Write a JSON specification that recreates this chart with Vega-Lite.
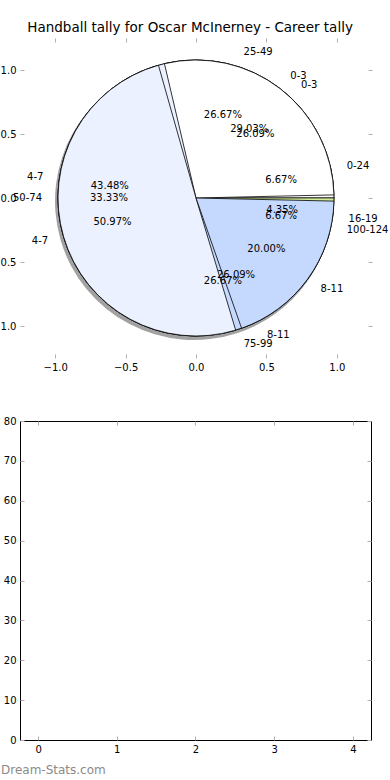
{
  "$schema": "https://vega.github.io/schema/vega-lite/v6.json",
  "autosize": {"type": "pad"},
  "padding": {"left": -9, "top": 21, "right": 0, "bottom": 0},
  "bounds": "flush",
  "spacing": 63,
  "config": {
    "font": "DejaVu Sans",
    "view": {"stroke": null},
    "axis": {"grid": false, "labelFontSize": 10, "labelColor": "black", "tickColor": "#b0b0b0", "tickSize": -4, "tickWidth": 1, "labelPadding": 8, "domain": false, "title": null, "labelFlush": false, "labelOverlap": false}
  },
  "title": {"text": "Handball tally for Oscar McInerney - Career tally", "fontSize": 13.5, "fontWeight": "normal", "color": "black", "anchor": "middle", "offset": 3},
  "data": {"values": [
    {"pie": "A", "idx": 1, "band": "0-24", "value": 0.0667},
    {"pie": "A", "idx": 2, "band": "25-49", "value": 0.2667},
    {"pie": "A", "idx": 3, "band": "50-74", "value": 0.3333},
    {"pie": "A", "idx": 4, "band": "75-99", "value": 0.2667},
    {"pie": "A", "idx": 5, "band": "100-124", "value": 0.0667},
    {"pie": "B", "idx": 1, "band": "0-3", "value": 0.2609},
    {"pie": "B", "idx": 2, "band": "4-7", "value": 0.4348},
    {"pie": "B", "idx": 3, "band": "8-11", "value": 0.2609},
    {"pie": "B", "idx": 4, "band": "16-19", "value": 0.0435},
    {"pie": "C", "idx": 1, "band": "0-3", "value": 0.2903},
    {"pie": "C", "idx": 2, "band": "4-7", "value": 0.5097},
    {"pie": "C", "idx": 3, "band": "8-11", "value": 0.2000}
  ]},
  "vconcat": [
    {
      "width": 352,
      "height": 320,
      "resolve": {"axis": {"x": "independent", "y": "independent"}},
      "layer": [
        {
          "data": {"values": [{}]},
          "mark": {"type": "point", "opacity": 0},
          "encoding": {
            "x": {"datum": 0, "type": "quantitative", "scale": {"domain": [-1.25, 1.25], "nice": false, "zero": false}, "axis": {"orient": "bottom", "values": [-1, -0.5, 0, 0.5, 1], "format": ".1f"}},
            "y": {"datum": 0, "type": "quantitative", "scale": {"domain": [-1.25, 1.25], "nice": false, "zero": false}, "axis": {"orient": "left", "values": [-1, -0.5, 0, 0.5, 1], "format": ".1f"}}
          }
        },
        {
          "data": {"values": [{}]},
          "mark": {"type": "point", "opacity": 0},
          "encoding": {
            "x": {"datum": 0, "type": "quantitative", "axis": {"orient": "top", "values": [-1, -0.5, 0, 0.5, 1], "labels": false}},
            "y": {"datum": 0, "type": "quantitative", "axis": {"orient": "right", "values": [-1, -0.5, 0, 0.5, 1], "labels": false}}
          }
        },
        {
          "transform": [{"filter": "datum.pie === 'C'"}],
          "mark": {"type": "arc", "radius": 139, "xOffset": -2, "yOffset": 3, "fill": "#555555", "opacity": 0.55, "strokeWidth": 0},
          "encoding": {
            "theta": {"field": "value", "type": "quantitative", "stack": true},
            "order": {"field": "idx", "type": "quantitative"}
          }
        },
        {
          "transform": [{"filter": "datum.pie === 'A'"}],
          "mark": {"type": "arc", "radius": 138, "stroke": "black", "strokeWidth": 0.8, "padAngle": 0.0},
          "encoding": {
            "theta": {"field": "value", "type": "quantitative", "stack": true, "scale": {"domain": [0, 1], "range": [1.5708, -4.7124]}},
            "order": {"field": "idx", "type": "quantitative"},
            "color": {"field": "band", "type": "nominal", "legend": null, "scale": {"domain": ["0-3", "4-7", "8-11", "16-19", "0-24", "25-49", "50-74", "75-99", "100-124"], "range": ["#ffffff", "#ebf1fe", "#c5d9fe", "#d3ec96", "#ffffff", "#ebf1fe", "#c5d9fe", "#d3ec96", "#f3d6cf"]}}
          }
        },
        {
          "transform": [{"filter": "datum.pie === 'B'"}],
          "mark": {"type": "arc", "radius": 138, "stroke": "black", "strokeWidth": 0.8, "padAngle": 0.0},
          "encoding": {
            "theta": {"field": "value", "type": "quantitative", "stack": true},
            "order": {"field": "idx", "type": "quantitative"},
            "color": {"field": "band", "type": "nominal", "legend": null}
          }
        },
        {
          "transform": [{"filter": "datum.pie === 'C'"}],
          "mark": {"type": "arc", "radius": 138, "stroke": "black", "strokeWidth": 0.8, "padAngle": 0.045},
          "encoding": {
            "theta": {"field": "value", "type": "quantitative", "stack": true},
            "order": {"field": "idx", "type": "quantitative"},
            "color": {"field": "band", "type": "nominal", "legend": null}
          }
        },
        {
          "transform": [{"filter": "datum.pie === 'A'"}],
          "mark": {"type": "text", "radius": 87, "fontSize": 10, "baseline": "middle", "align": "center"},
          "encoding": {
            "theta": {"field": "value", "type": "quantitative", "stack": true},
            "order": {"field": "idx", "type": "quantitative"},
            "text": {"field": "value", "type": "quantitative", "format": ".2%"}
          }
        },
        {
          "transform": [{"filter": "datum.pie === 'B'"}],
          "mark": {"type": "text", "radius": 87, "fontSize": 10, "baseline": "middle", "align": "center"},
          "encoding": {
            "theta": {"field": "value", "type": "quantitative", "stack": true},
            "order": {"field": "idx", "type": "quantitative"},
            "text": {"field": "value", "type": "quantitative", "format": ".2%"}
          }
        },
        {
          "transform": [{"filter": "datum.pie === 'C'"}],
          "mark": {"type": "text", "radius": 87, "fontSize": 10, "baseline": "middle", "align": "center"},
          "encoding": {
            "theta": {"field": "value", "type": "quantitative", "stack": true},
            "order": {"field": "idx", "type": "quantitative"},
            "text": {"field": "value", "type": "quantitative", "format": ".2%"}
          }
        },
        {
          "transform": [{"filter": "datum.pie === 'A'"}],
          "mark": {"type": "text", "radius": 154, "fontSize": 10, "baseline": "middle", "align": "left"},
          "encoding": {
            "theta": {"field": "value", "type": "quantitative", "stack": true},
            "order": {"field": "idx", "type": "quantitative"},
            "text": {"condition": {"test": "datum.band !== '50-74'", "field": "band"}, "value": ""}
          }
        },
        {
          "transform": [{"filter": "datum.pie === 'A'"}],
          "mark": {"type": "text", "radius": 154, "fontSize": 10, "baseline": "middle", "align": "right"},
          "encoding": {
            "theta": {"field": "value", "type": "quantitative", "stack": true},
            "order": {"field": "idx", "type": "quantitative"},
            "text": {"condition": {"test": "datum.band === '50-74'", "field": "band"}, "value": ""}
          }
        },
        {
          "transform": [{"filter": "datum.pie === 'B'"}],
          "mark": {"type": "text", "radius": 154, "fontSize": 10, "baseline": "middle", "align": "left"},
          "encoding": {
            "theta": {"field": "value", "type": "quantitative", "stack": true},
            "order": {"field": "idx", "type": "quantitative"},
            "text": {"condition": {"test": "datum.band !== '4-7'", "field": "band"}, "value": ""}
          }
        },
        {
          "transform": [{"filter": "datum.pie === 'B'"}],
          "mark": {"type": "text", "radius": 154, "fontSize": 10, "baseline": "middle", "align": "right"},
          "encoding": {
            "theta": {"field": "value", "type": "quantitative", "stack": true},
            "order": {"field": "idx", "type": "quantitative"},
            "text": {"condition": {"test": "datum.band === '4-7'", "field": "band"}, "value": ""}
          }
        },
        {
          "transform": [{"filter": "datum.pie === 'C'"}],
          "mark": {"type": "text", "radius": 154, "fontSize": 10, "baseline": "middle", "align": "left"},
          "encoding": {
            "theta": {"field": "value", "type": "quantitative", "stack": true},
            "order": {"field": "idx", "type": "quantitative"},
            "text": {"condition": {"test": "datum.band !== '4-7'", "field": "band"}, "value": ""}
          }
        },
        {
          "transform": [{"filter": "datum.pie === 'C'"}],
          "mark": {"type": "text", "radius": 154, "fontSize": 10, "baseline": "middle", "align": "right"},
          "encoding": {
            "theta": {"field": "value", "type": "quantitative", "stack": true},
            "order": {"field": "idx", "type": "quantitative"},
            "text": {"condition": {"test": "datum.band === '4-7'", "field": "band"}, "value": ""}
          }
        }
      ]
    },
    {
      "width": 351,
      "height": 319,
      "view": {"stroke": "black", "strokeWidth": 1},
      "title": {"text": "Dream-Stats.com", "orient": "bottom", "anchor": "start", "frame": "group", "dx": -19, "offset": 11, "fontSize": 12, "fontWeight": "normal", "color": "#8a8a8a"},
      "resolve": {"axis": {"x": "independent", "y": "independent"}},
      "layer": [
        {
          "data": {"values": [{}]},
          "mark": {"type": "point", "opacity": 0},
          "encoding": {
            "x": {"datum": 0, "type": "quantitative", "scale": {"domain": [-0.23, 4.23], "nice": false, "zero": false}, "axis": {"orient": "bottom", "values": [0, 1, 2, 3, 4], "format": "d"}},
            "y": {"datum": 0, "type": "quantitative", "scale": {"domain": [0, 80], "nice": false}, "axis": {"orient": "left", "values": [0, 10, 20, 30, 40, 50, 60, 70, 80], "format": "d"}}
          }
        },
        {
          "data": {"values": [{}]},
          "mark": {"type": "point", "opacity": 0},
          "encoding": {
            "x": {"datum": 0, "type": "quantitative", "axis": {"orient": "top", "values": [0, 1, 2, 3, 4], "labels": false}},
            "y": {"datum": 0, "type": "quantitative", "axis": {"orient": "right", "values": [0, 10, 20, 30, 40, 50, 60, 70, 80], "labels": false}}
          }
        }
      ]
    }
  ]
}
